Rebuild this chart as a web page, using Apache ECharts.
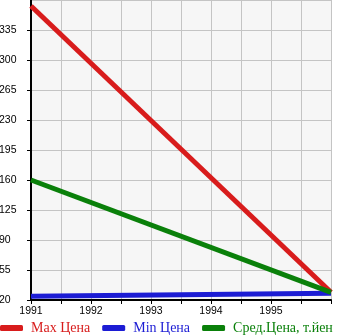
<!DOCTYPE html>
<html>
<head>
<meta charset="utf-8">
<script src="https://cdn.jsdelivr.net/npm/echarts@6/dist/echarts.min.js"></script>
<style>html,body{margin:0;padding:0;background:#fff}#c{width:345px;height:335px}</style>
</head>
<body>
<div id="c"></div>
<script>
var years = [1991, 1996];
var maxPrice = [363, 29];
var minPrice = [24.5, 28];
var avgPrice = [160, 29];
var seriesNames = ['Max Цена', 'Min Цена', 'Сред.Цена, т.йен'];
var colors = ['#d81c1c', '#1c1cd4', '#0a800a'];

function pairs(xs, ys) { return xs.map(function (x, i) { return [x, ys[i]]; }); }

var chart = echarts.init(document.getElementById('c'), null, { renderer: 'canvas' });
chart.setOption({
  animation: false,
  grid: { left: 31, right: 14, top: 0, height: 300, show: true, backgroundColor: '#f6f6f6', borderWidth: 0, containLabel: false, outerBoundsMode: 'none' },
  xAxis: {
    type: 'value', min: 1991, max: 1996, interval: 0.5,
    axisLine: { show: true, onZero: false, lineStyle: { color: '#000', width: 2 } },
    axisTick: { show: true, length: 4, lineStyle: { color: '#000', width: 1 } },
    splitLine: { show: true, lineStyle: { color: '#c4c4c4', width: 1 } },
    axisLabel: {
      margin: 6, color: '#000', fontFamily: 'Liberation Sans', fontSize: 10.5,
      formatter: function (v) { return (Math.abs(v - Math.round(v)) < 1e-6 && v < 1996) ? String(Math.round(v)) : ''; }
    }
  },
  yAxis: {
    type: 'value', min: 20, max: 370, interval: 35,
    axisLine: { show: true, onZero: false, lineStyle: { color: '#000', width: 2 } },
    axisTick: { show: true, length: 4, lineStyle: { color: '#000', width: 1 } },
    splitLine: { show: true, lineStyle: { color: '#c4c4c4', width: 1 } },
    axisLabel: {
      margin: 32, align: 'left', color: '#000', fontFamily: 'Liberation Sans', fontSize: 10.5,
      padding: [0, 0, 7, 0], showMaxLabel: false
    }
  },
  legend: {
    left: 0, top: 321, padding: 0, itemWidth: 23, itemHeight: 6, itemGap: 12, icon: 'roundRect',
    textStyle: { fontFamily: 'Liberation Serif', fontSize: 14, padding: [0, 0, 0, 3] },
    data: seriesNames.map(function (n, i) { return { name: n, textStyle: { color: colors[i] } }; })
  },
  series: [
    { name: seriesNames[0], type: 'line', data: pairs(years, maxPrice), symbol: 'none', lineStyle: { width: 5, color: colors[0] }, itemStyle: { color: colors[0] } },
    { name: seriesNames[1], type: 'line', data: pairs(years, minPrice), symbol: 'none', lineStyle: { width: 5, color: colors[1] }, itemStyle: { color: colors[1] } },
    { name: seriesNames[2], type: 'line', data: pairs(years, avgPrice), symbol: 'none', lineStyle: { width: 5, color: colors[2] }, itemStyle: { color: colors[2] } }
  ]
});
</script>
</body>
</html>
